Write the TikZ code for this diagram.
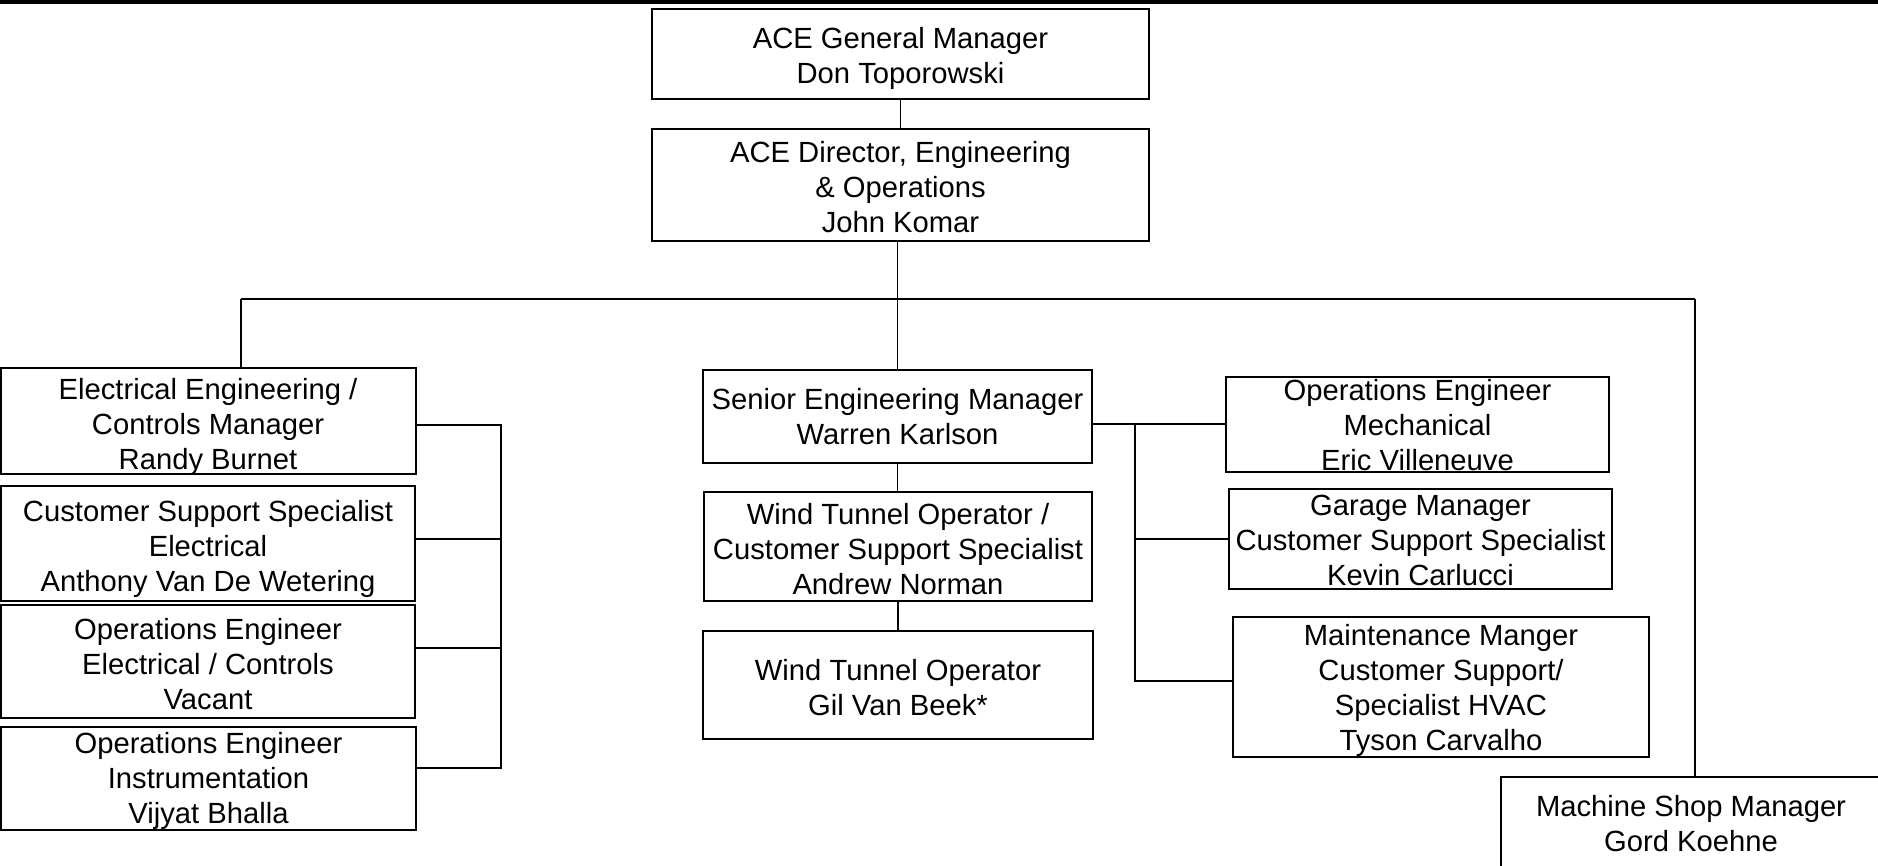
\documentclass[tikz,border=0pt]{standalone}
\usepackage{fontspec}
\setmainfont{Liberation Sans}
\begin{document}
\begin{tikzpicture}[x=0.5pt,y=-0.5pt,
  box/.style={draw=black, line width=1pt, rectangle, inner sep=0pt},
  txt/.style={align=center, inner sep=0pt, font=\fontsize{14.6pt}{17.5pt}\selectfont},
  conn/.style={draw=black, line width=0.8pt}]
\useasboundingbox (0,0) rectangle (1878,866);
\fill[black] (0,0) rectangle (1878,4);

% boxes
\node[box, minimum width=248.5pt, minimum height=45pt]   (gm)   at (900.5,54) {};
\node[box, minimum width=248.5pt, minimum height=56pt]   (dir)  at (900.5,185) {};
\node[box, minimum width=207.5pt, minimum height=53pt]   (ee)   at (208.5,421) {};
\node[box, minimum width=207pt,   minimum height=57.5pt] (css)  at (208,543.5) {};
\node[box, minimum width=207pt,   minimum height=56.5pt] (opse) at (208,661.5) {};
\node[box, minimum width=207.5pt, minimum height=51.5pt] (opsi) at (208.5,778.5) {};
\node[box, minimum width=194.5pt, minimum height=46.5pt] (sen)  at (897.5,416.5) {};
\node[box, minimum width=194pt,   minimum height=54.5pt] (wc)   at (898,546.5) {};
\node[box, minimum width=195pt,   minimum height=54pt]   (wt)   at (898,685) {};
\node[box, minimum width=191.5pt, minimum height=47.5pt] (om)   at (1417.5,424.5) {};
\node[box, minimum width=191.5pt, minimum height=50pt]   (ga)   at (1420.5,539) {};
\node[box, minimum width=208pt,   minimum height=70pt]   (mt)   at (1441,687) {};
\node[box, minimum width=190pt,   minimum height=47pt]   (ms)   at (1691,824) {};

% texts
\node[txt] (gm-t)   at (900.5,58) {ACE General Manager\\Don Toporowski};
\node[txt] (dir-t)  at (900.5,187) {ACE Director, Engineering\\\& Operations\\John Komar};
\node[txt] (ee-t)   at (208,426.5) {Electrical Engineering /\\Controls Manager\\Randy Burnet};
\node[txt] (css-t)  at (208,549) {Customer Support Specialist\\Electrical\\Anthony Van De Wetering};
\node[txt] (opse-t) at (208,664) {Operations Engineer\\Electrical / Controls\\Vacant};
\node[txt] (opsi-t) at (208.5,781) {Operations Engineer\\Instrumentation\\Vijyat Bhalla};
\node[txt] (sen-t)  at (897.5,417) {Senior Engineering Manager\\Warren Karlson};
\node[txt] (wc-t)   at (898,549.5) {Wind Tunnel Operator /\\Customer Support Specialist\\Andrew Norman};
\node[txt] (wt-t)   at (898,688) {Wind Tunnel Operator\\Gil Van Beek*};
\node[txt] (om-t)   at (1417.5,425.5) {Operations Engineer\\Mechanical\\Eric Villeneuve};
\node[txt] (ga-t)   at (1420.5,540.5) {Garage Manager\\Customer Support Specialist\\Kevin Carlucci};
\node[txt] (mt-t)   at (1441,690.5) {Maintenance Manger\\Customer Support/\\Specialist HVAC\\Tyson Carvalho};
\node[txt] (ms-t)   at (1691,824) {Machine Shop Manager\\Gord Koehne};

% connectors
\coordinate (busL) at (241,299);
\coordinate (busR) at (1695,299);
\draw[conn] (gm.south) -- (dir.north);
\draw[conn] (dir.south -| sen.north) -- (sen.north);
\draw[conn] (busL) -- (busR);
\draw[conn] (busL) -- (busL |- ee.north);
\draw[conn] (busR) -- (busR |- ms.north);

\coordinate (lb1) at (501,425);
\coordinate (lb2) at (501,539);
\coordinate (lb3) at (501,648);
\coordinate (lb4) at (501,768);
\draw[conn] (lb1 -| ee.east) -- (lb1) -- (lb4) -- (lb4 -| opsi.east);
\draw[conn] (lb2 -| css.east) -- (lb2);
\draw[conn] (lb3 -| opse.east) -- (lb3);

\coordinate (rb1) at (1135,424);
\coordinate (rb2) at (1135,539);
\coordinate (rb3) at (1135,681);
\draw[conn] (rb1 -| sen.east) -- (rb1 -| om.west);
\draw[conn] (rb1) -- (rb3) -- (rb3 -| mt.west);
\draw[conn] (rb2) -- (rb2 -| ga.west);

\draw[conn] (sen.south) -- (sen.south |- wc.north);
\draw[conn] (wc.south) -- (wc.south |- wt.north);
\end{tikzpicture}
\end{document}
